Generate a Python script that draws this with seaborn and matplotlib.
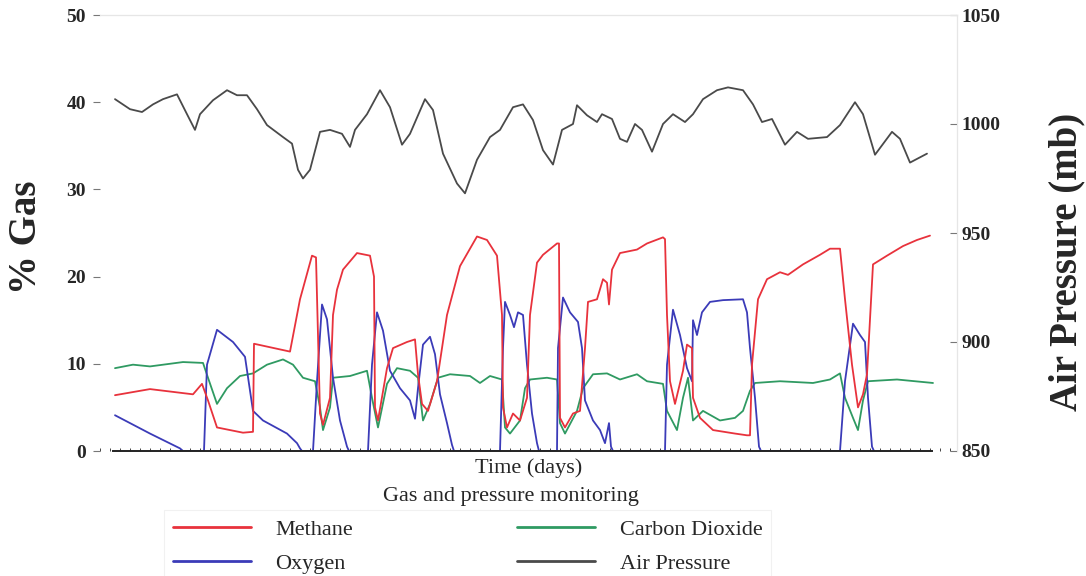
import numpy as np
import pandas as pd
import matplotlib
matplotlib.use("Agg")
import matplotlib.pyplot as plt
from matplotlib.lines import Line2D
from matplotlib.ticker import MultipleLocator
import seaborn as sns

# values: (day, value)
methane = [
    (1.5, 6.4), (5.0, 7.1), (9.3, 6.5), (10.2, 7.7), (10.8, 5.8), (11.7, 2.7), (14.3, 2.1),
    (15.3, 2.2), (15.4, 12.3), (19.0, 11.4), (20.0, 17.4), (21.2, 22.4), (21.6, 22.2),
    (22.0, 4.3), (22.3, 3.0), (23.0, 6.1), (23.3, 15.6), (23.7, 18.5), (24.3, 20.8),
    (25.7, 22.7), (27.0, 22.4), (27.4, 20.0), (27.5, 5.0), (27.8, 3.5), (28.7, 9.5),
    (29.3, 11.8), (30.7, 12.5), (31.5, 12.8), (31.8, 8.8), (32.2, 5.4), (32.8, 4.6),
    (33.7, 8.0), (34.7, 15.6), (36.0, 21.2), (37.7, 24.6), (38.7, 24.2), (39.7, 22.4),
    (40.2, 15.6), (40.3, 5.0), (40.7, 2.7), (41.3, 4.3), (42.0, 3.5), (42.7, 6.1),
    (43.0, 15.6), (43.7, 21.6), (44.3, 22.5), (45.7, 23.8), (45.9, 23.8), (46.0, 3.8),
    (46.5, 2.7), (47.3, 4.3), (48.0, 4.6), (48.5, 11.8), (48.8, 17.1), (49.7, 17.4),
    (50.3, 19.7), (50.7, 19.3), (50.9, 16.8), (51.2, 20.8), (52.0, 22.7), (53.7, 23.1),
    (54.7, 23.8), (56.3, 24.5), (56.5, 24.3), (56.7, 15.6), (57.0, 8.0), (57.5, 5.4),
    (58.3, 9.2), (58.7, 12.2), (59.2, 11.8), (59.3, 6.1), (60.0, 3.8), (61.3, 2.4),
    (63.5, 2.0), (64.7, 1.8), (65.0, 1.8), (65.2, 9.9), (65.8, 17.4), (66.7, 19.7),
    (68.0, 20.5), (68.8, 20.2), (70.3, 21.4), (72.0, 22.5), (73.0, 23.2), (74.0, 23.2),
    (74.5, 17.4), (75.2, 9.9), (75.8, 5.0), (76.3, 6.5), (76.7, 8.8), (77.3, 21.4),
    (78.7, 22.4), (80.3, 23.5), (81.7, 24.2), (83.0, 24.7),
]

oxygen = [
    (1.5, 4.1), (5.0, 2.0), (8.0, 0.3), (8.3, 0.0), (10.4, 0.0), (10.7, 9.9), (11.7, 13.9),
    (13.3, 12.5), (14.5, 10.8), (15.3, 4.6), (16.3, 3.5), (18.7, 2.0), (19.7, 0.9),
    (20.0, 0.3), (20.2, 0.0), (21.3, 0.0), (21.7, 8.0), (22.2, 16.8), (22.7, 15.1),
    (23.3, 8.4), (24.0, 3.5), (24.7, 0.5), (24.9, 0.0), (26.8, 0.0), (27.2, 9.9),
    (27.7, 15.9), (28.3, 13.8), (29.0, 9.2), (30.0, 7.2), (31.0, 5.8), (31.5, 3.7),
    (31.8, 7.2), (32.3, 12.2), (33.0, 13.1), (33.5, 11.1), (34.0, 6.5), (34.7, 3.2),
    (35.2, 0.7), (35.4, 0.0), (40.0, 0.0), (40.3, 11.8), (40.5, 17.1), (41.0, 15.6),
    (41.4, 14.2), (41.8, 15.9), (42.3, 15.6), (42.7, 9.9), (43.2, 4.3), (43.7, 0.9),
    (43.9, 0.0), (45.7, 0.0), (45.8, 11.8), (46.3, 17.6), (47.0, 15.9), (47.8, 14.8),
    (48.2, 11.8), (48.5, 5.8), (49.3, 3.5), (50.0, 2.4), (50.5, 0.9), (50.9, 3.2),
    (51.1, 0.5), (51.3, 0.0), (56.5, 0.0), (56.7, 9.9), (57.3, 16.2), (58.0, 13.3),
    (58.7, 9.5), (59.2, 8.0), (59.3, 15.0), (59.7, 13.3), (60.2, 15.9), (61.0, 17.1),
    (62.3, 17.3), (64.3, 17.4), (64.7, 15.9), (65.0, 11.8), (65.5, 6.1), (65.9, 0.5),
    (66.1, 0.0), (74.0, 0.0), (74.5, 8.0), (75.3, 14.6), (76.0, 13.3), (76.5, 12.5),
    (76.8, 6.1), (77.2, 0.5), (77.4, 0.0),
]

carbon_dioxide = [
    (1.5, 9.5), (3.3, 9.9), (5.0, 9.7), (8.3, 10.2), (10.3, 10.1), (10.8, 8.4), (11.7, 5.4),
    (12.7, 7.2), (14.0, 8.6), (15.3, 8.9), (16.7, 9.9), (18.3, 10.5), (19.3, 9.9),
    (20.3, 8.4), (21.5, 8.0), (22.0, 5.0), (22.3, 2.4), (23.0, 5.0), (23.3, 8.4),
    (25.0, 8.6), (26.7, 9.2), (27.2, 6.1), (27.8, 2.7), (28.7, 7.7), (29.7, 9.5),
    (31.0, 9.2), (31.8, 8.4), (32.3, 3.5), (33.0, 5.4), (33.8, 8.4), (35.0, 8.8),
    (37.0, 8.6), (38.0, 7.8), (39.0, 8.6), (40.2, 8.2), (40.5, 2.7), (41.0, 2.0),
    (42.0, 3.5), (42.5, 7.2), (43.0, 8.2), (44.7, 8.4), (45.7, 8.2), (46.0, 3.2),
    (46.5, 2.0), (47.7, 4.6), (48.3, 7.2), (49.3, 8.8), (50.7, 8.9), (52.0, 8.2),
    (53.7, 8.8), (54.7, 8.0), (56.3, 7.7), (56.7, 4.6), (57.7, 2.4), (58.3, 6.1),
    (58.8, 8.4), (59.3, 3.5), (60.3, 4.6), (62.0, 3.5), (63.5, 3.8), (64.3, 4.6),
    (65.0, 6.9), (65.5, 7.8), (68.0, 8.0), (71.3, 7.8), (73.0, 8.2), (74.0, 8.9),
    (74.5, 6.1), (75.3, 3.8), (75.8, 2.4), (76.3, 5.8), (76.8, 8.0), (79.7, 8.2),
    (83.3, 7.8),
]

air_pressure = [
    (1.5, 1011.4), (3.0, 1006.8), (4.2, 1005.5), (5.3, 1009.0), (6.3, 1011.4), (7.7, 1013.6),
    (8.7, 1004.5), (9.5, 997.3), (10.0, 1004.5), (11.3, 1010.9), (12.7, 1015.5),
    (13.7, 1013.2), (14.7, 1013.2), (15.7, 1006.8), (16.7, 999.5), (18.3, 994.0),
    (19.2, 991.0), (19.8, 979.0), (20.3, 975.0), (21.0, 979.0), (22.0, 996.4),
    (23.0, 997.3), (24.2, 995.5), (25.0, 989.5), (25.5, 997.3), (26.7, 1004.5),
    (28.0, 1015.5), (29.0, 1007.7), (30.2, 990.5), (31.0, 995.5), (32.5, 1011.4),
    (33.3, 1006.4), (34.3, 986.4), (35.7, 972.7), (36.5, 968.2), (37.7, 983.6),
    (39.0, 994.0), (40.0, 997.3), (41.3, 1007.7), (42.3, 1009.0), (43.3, 1001.8),
    (44.3, 988.0), (45.3, 981.4), (46.2, 997.3), (47.3, 1000.0), (47.7, 1008.6),
    (48.7, 1004.0), (49.7, 1000.9), (50.2, 1004.5), (51.2, 1002.3), (52.0, 993.2),
    (52.7, 991.8), (53.5, 1000.0), (54.2, 997.3), (55.2, 987.3), (56.3, 1000.0),
    (57.3, 1004.5), (58.5, 1000.9), (59.3, 1004.5), (60.3, 1011.4), (61.7, 1015.5),
    (62.8, 1016.8), (64.3, 1015.5), (65.3, 1009.0), (66.2, 1000.9), (67.2, 1002.3),
    (68.5, 990.5), (69.7, 996.4), (70.8, 993.2), (72.7, 994.0), (74.0, 999.5),
    (75.5, 1010.0), (76.3, 1004.5), (77.5, 985.9), (79.2, 996.4), (80.0, 993.2),
    (81.0, 982.3), (82.7, 986.4),
]

gas_ticks = [0, 10, 20, 30, 40, 50]
pressure_ticks = [850, 900, 950, 1000, 1050]

colors = {
    "Methane": "#e8323c",
    "Oxygen": "#3b3bb8",
    "Carbon Dioxide": "#2f9a62",
    "Air Pressure": "#4a4a4a",
}

sns.set_style("white")
plt.rcParams["font.family"] = ["Liberation Serif", "DejaVu Serif"]

fig = plt.figure(figsize=(10.86, 5.76), dpi=100)
ax = fig.add_axes([100 / 1086, 1 - 451 / 576, 857 / 1086, 436 / 576])
ax2 = ax.twinx()

def to_frame(pairs, name):
    df = pd.DataFrame(pairs, columns=["day", "value"])
    df["series"] = name
    return df

gas = pd.concat([
    to_frame(methane, "Methane"),
    to_frame(oxygen, "Oxygen"),
    to_frame(carbon_dioxide, "Carbon Dioxide"),
])
for name in ["Carbon Dioxide", "Oxygen", "Methane"]:
    sns.lineplot(data=gas[gas["series"] == name], x="day", y="value", ax=ax,
                 color=colors[name], lw=1.3, sort=False, estimator=None)

pres = to_frame(air_pressure, "Air Pressure")
sns.lineplot(data=pres, x="day", y="value", ax=ax2, color=colors["Air Pressure"],
             lw=1.3, sort=False, estimator=None)

ax.set_xlim(0, 85.7)
ax.set_ylim(0, 50)
ax2.set_ylim(850, 1050)

ax.set_yticks(gas_ticks)
ax2.set_yticks(pressure_ticks)
ax.set_ylabel("")
ax2.set_ylabel("")
ax.set_xlabel("Time (days)", fontsize=16, labelpad=5)

for a in (ax, ax2):
    for s in a.spines.values():
        s.set_color("#e6e6e6")
        s.set_linewidth(0.8)
ax.spines["left"].set_visible(False)
ax2.spines["left"].set_visible(False)
ax.spines["bottom"].set_visible(False)
ax2.spines["bottom"].set_color("#222222")
ax2.spines["bottom"].set_linewidth(1.4)
ax2.spines["bottom"].set_bounds(1.3, 83.2)
ax2.spines["bottom"].set_zorder(5)

# little comb of day marks along the base line
ax.xaxis.set_major_locator(MultipleLocator(1))
ax.tick_params(axis="x", which="major", direction="in", length=2.5, width=0.7,
               color="#444444", labelbottom=False, bottom=True)
ax.tick_params(axis="y", direction="out", length=5, width=0.8, color="#777777",
               labelsize=14, pad=5)
ax2.tick_params(axis="y", direction="in", length=5, width=0.8, color="#777777",
                labelsize=14, pad=3)
for lab in ax.get_yticklabels() + ax2.get_yticklabels():
    lab.set_fontweight("bold")

fig.text(26 / 1086, 1 - 237 / 576, "% Gas", rotation=90, ha="center", va="center",
         fontsize=28, fontweight="bold")
fig.text(1067 / 1086, 1 - 262 / 576, "Air Pressure (mb)", rotation=90, ha="center",
         va="center", fontsize=28, fontweight="bold")

order = ["Methane", "Oxygen", "Carbon Dioxide", "Air Pressure"]
handles = [Line2D([0], [0], color=colors[n], lw=2) for n in order]
leg = fig.legend(handles, order, loc="upper left", ncol=2,
                 bbox_to_anchor=(153 / 1086, 1 - 499 / 576), fontsize=16,
                 handlelength=3.5, handletextpad=1.1, columnspacing=7.4,
                 labelspacing=0.62, borderpad=0.4, frameon=True, fancybox=False)
leg.get_frame().set_edgecolor("#eeeeee")
leg.get_frame().set_facecolor("none")
leg.get_frame().set_linewidth(0.8)

fig.text(511 / 1086, 1 - 497 / 576, "Gas and pressure monitoring", ha="center",
         va="center", fontsize=16, zorder=10)

fig.savefig("out.png", dpi=100)
